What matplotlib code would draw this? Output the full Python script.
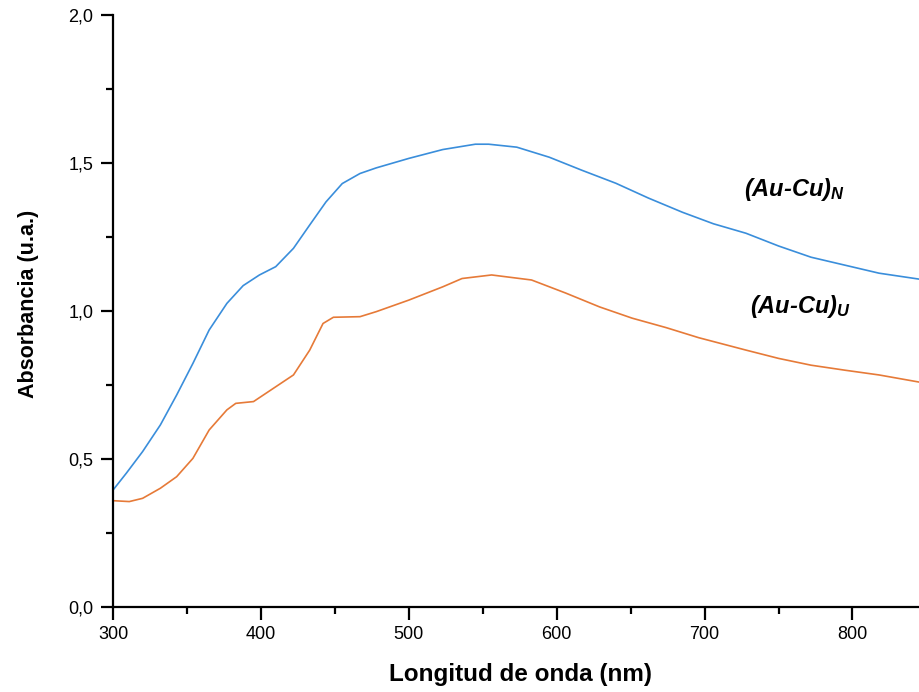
import numpy as np
import matplotlib.pyplot as plt
from matplotlib.ticker import MultipleLocator, FuncFormatter

# wavelength (nm) and absorbance
wl_n = [300, 309, 320, 332, 343, 354, 365, 377, 388, 399, 410, 422, 433, 444,
        455, 467, 478, 500, 523, 545, 554, 573, 595, 617, 640, 662, 685, 706,
        728, 750, 772, 795, 818, 845]
abs_n = [0.395, 0.452, 0.525, 0.615, 0.716, 0.823, 0.936, 1.026, 1.086, 1.122,
         1.15, 1.212, 1.291, 1.369, 1.431, 1.465, 1.484, 1.516, 1.546, 1.564,
         1.564, 1.554, 1.52, 1.476, 1.432, 1.382, 1.334, 1.295, 1.263, 1.22,
         1.182, 1.155, 1.128, 1.108]

wl_u = [300, 311, 320, 332, 343, 354, 365, 377, 383, 395, 410, 422, 433, 442,
        449, 467, 478, 500, 523, 536, 556, 583, 606, 629, 651, 674, 696, 728,
        750, 772, 795, 818, 845]
abs_u = [0.359, 0.356, 0.367, 0.401, 0.44, 0.502, 0.598, 0.666, 0.688, 0.694,
         0.744, 0.784, 0.868, 0.958, 0.979, 0.981, 0.998, 1.037, 1.082, 1.11,
         1.122, 1.105, 1.061, 1.014, 0.976, 0.944, 0.91, 0.868, 0.84, 0.817,
         0.80, 0.784, 0.76]

plt.rcParams['font.family'] = ['Liberation Sans', 'DejaVu Sans']
plt.rcParams['mathtext.fontset'] = 'custom'
plt.rcParams['mathtext.it'] = 'Liberation Sans:italic:bold'
plt.rcParams['mathtext.rm'] = 'Liberation Sans:bold'

fig = plt.figure(figsize=(9.19, 6.92), dpi=100)
ax = fig.add_axes([0.123, 0.123, 0.877, 0.855])

ax.plot(wl_n, abs_n, color='#3a8edb', lw=1.2)
ax.plot(wl_u, abs_u, color='#e67a38', lw=1.2)

ax.text(727, 1.41, '(Au-Cu)$_N$', fontsize=17, fontweight='bold',
        fontstyle='italic', va='center')
ax.text(731, 1.017, '(Au-Cu)$_U$', fontsize=17, fontweight='bold',
        fontstyle='italic', va='center')

ax.set_xlim(300, 845)
ax.set_ylim(0, 2.0)
ax.xaxis.set_major_locator(MultipleLocator(100))
ax.xaxis.set_minor_locator(MultipleLocator(50))
ax.yaxis.set_major_locator(MultipleLocator(0.5))
ax.yaxis.set_minor_locator(MultipleLocator(0.25))
ax.yaxis.set_major_formatter(FuncFormatter(lambda v, p: f'{v:.1f}'.replace('.', ',')))

for s in ['top', 'right']:
    ax.spines[s].set_visible(False)
for s in ['left', 'bottom']:
    ax.spines[s].set_linewidth(1.6)

ax.tick_params(which='major', direction='out', length=9, width=1.6, labelsize=13, pad=5)
ax.tick_params(which='minor', direction='out', length=5, width=1.6)

ax.set_xlabel('Longitud de onda (nm)', fontsize=17.5, fontweight='bold')
ax.set_ylabel('Absorbancia (u.a.)', fontsize=15.5, fontweight='bold')
ax.xaxis.set_label_coords(0.505, -0.095)
ax.yaxis.set_label_coords(-0.092, 0.512)

fig.savefig('out.png', dpi=100)
